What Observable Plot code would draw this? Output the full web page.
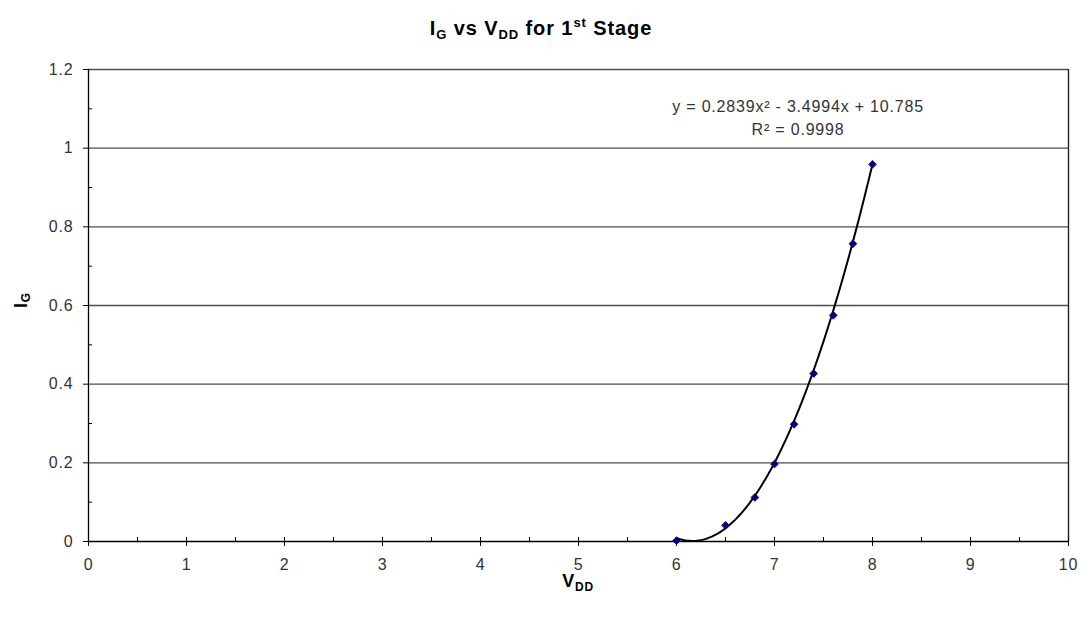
<!DOCTYPE html>
<html>
<head>
<meta charset="utf-8">
<script src="https://cdn.jsdelivr.net/npm/d3@7"></script>
<script src="https://cdn.jsdelivr.net/npm/@observablehq/plot@0.6"></script>
<style>
  body { margin: 0; background: #fff; font-family: "Liberation Sans", Arial, sans-serif; }
  #title { height: 50px; width: 1082px; display: flex; align-items: center; justify-content: center; font-weight: bold; font-size: 20px; letter-spacing: 0.9px; color: #000; padding-top: 6px; box-sizing: border-box; }
  #title sub { font-size: 13px; vertical-align: -4px; }
  #title sup { font-size: 13px; vertical-align: 8px; }
</style>
</head>
<body>
<div id="title"><span>I<sub>G</sub> vs V<sub>DD</sub> for 1<sup>st</sup> Stage</span></div>
<div id="chart"></div>
<script>
// Data
const vdd = [6, 6.5, 6.8, 7, 7.2, 7.4, 7.6, 7.8, 8];
const ig  = [0.002, 0.041, 0.112, 0.197, 0.298, 0.427, 0.575, 0.757, 0.959];
// Excel polynomial trendline coefficients shown on the chart (a x^2 + b x + c)
const trendCoef = [0.2839, -3.4994, 10.785];
const trendRange = [6, 8];
const trendText = "y = 0.2839x² - 3.4994x + 10.785\nR² = 0.9998";
// Ticks
const xTicks = [0, 1, 2, 3, 4, 5, 6, 7, 8, 9, 10];
const xMinor = [0.5, 1.5, 2.5, 3.5, 4.5, 5.5, 6.5, 7.5, 8.5, 9.5];
const yTicks = [0, 0.2, 0.4, 0.6, 0.8, 1, 1.2];
const yMinor = [0.1, 0.3, 0.5, 0.7, 0.9, 1.1];

const points = vdd.map((x, i) => ({x, y: ig[i]}));
const trend = d3.range(trendRange[0], trendRange[1] + 1e-9, 0.02).map(x => ({
  x, y: Math.max(0, trendCoef[0] * x * x + trendCoef[1] * x + trendCoef[2])
}));

const font = "Liberation Sans, Arial, sans-serif";
const chart = Plot.plot({
  width: 1082,
  height: 572,
  marginTop: 19,
  marginBottom: 81,
  marginLeft: 88,
  marginRight: 14,
  style: {fontFamily: font, fontSize: "16px", background: "#fff", color: "#333", letterSpacing: "0.8px"},
  x: {domain: [0, 10], axis: null},
  y: {domain: [0, 1.2], axis: null},
  marks: [
    Plot.gridY(yTicks.filter(d => d > 0), {stroke: "#4d4d4d", strokeOpacity: 1, strokeWidth: 1.4}),
    Plot.ruleX([10], {stroke: "#222", strokeWidth: 1.4}),
    Plot.ruleX([0], {stroke: "#000", strokeWidth: 1.3}),
    Plot.ruleY([0], {stroke: "#000", strokeWidth: 1.3}),
    // x ticks: major crossing, minor inside
    Plot.axisX(xTicks, {anchor: "bottom", tickSize: 9, dy: -4, fill: "none", label: null, stroke: "#000"}),
    Plot.axisX(xMinor, {anchor: "bottom", tickSize: 4, dy: -4, fill: "none", label: null, stroke: "#000"}),
    Plot.axisX(xTicks, {anchor: "bottom", tickSize: 0, tickPadding: 17, label: null, fill: "#333", fontSize: 16}),
    // y ticks: major outside, minor inside
    Plot.axisY(yTicks, {anchor: "left", tickSize: 5, fill: "none", label: null, stroke: "#000"}),
    Plot.axisY(yMinor, {anchor: "left", tickSize: 4, dx: 4, fill: "none", label: null, stroke: "#000"}),
    Plot.axisY(yTicks, {anchor: "left", tickSize: 0, tickPadding: 15, label: null, fill: "#333", fontSize: 16, tickFormat: d => String(d)}),
    // trendline
    Plot.line(trend, {x: "x", y: "y", stroke: "#000", strokeWidth: 2, curve: "linear"}),
    // data points
    Plot.dot(points, {x: "x", y: "y", symbol: "diamond2", r: 3.5, fill: "#000080", stroke: "#000080", strokeWidth: 0.8}),
    // trendline equation label
    Plot.text([trendText], {x: 7.24, y: 1.082, text: d => d, fontSize: 16, fill: "#333", lineHeight: 1.44, lineAnchor: "middle", textAnchor: "middle"})
  ]
});

const svg = d3.select(chart);
// y-axis title I_G (rotated)
const yl = svg.append("text")
  .attr("transform", "translate(27,250) rotate(-90)")
  .attr("text-anchor", "middle")
  .attr("font-family", font).attr("font-weight", "bold").attr("font-size", 18).attr("fill", "#000");
yl.append("tspan").text("I");
yl.append("tspan").attr("font-size", 12).attr("dy", 3).text("G");
// x-axis title V_DD
const xl = svg.append("text")
  .attr("transform", "translate(578,537)")
  .attr("text-anchor", "middle")
  .attr("font-family", font).attr("font-weight", "bold").attr("font-size", 18).attr("fill", "#000");
xl.append("tspan").text("V");
xl.append("tspan").attr("font-size", 12).attr("dy", 4).text("DD");

document.getElementById("chart").appendChild(chart);
</script>
</body>
</html>
